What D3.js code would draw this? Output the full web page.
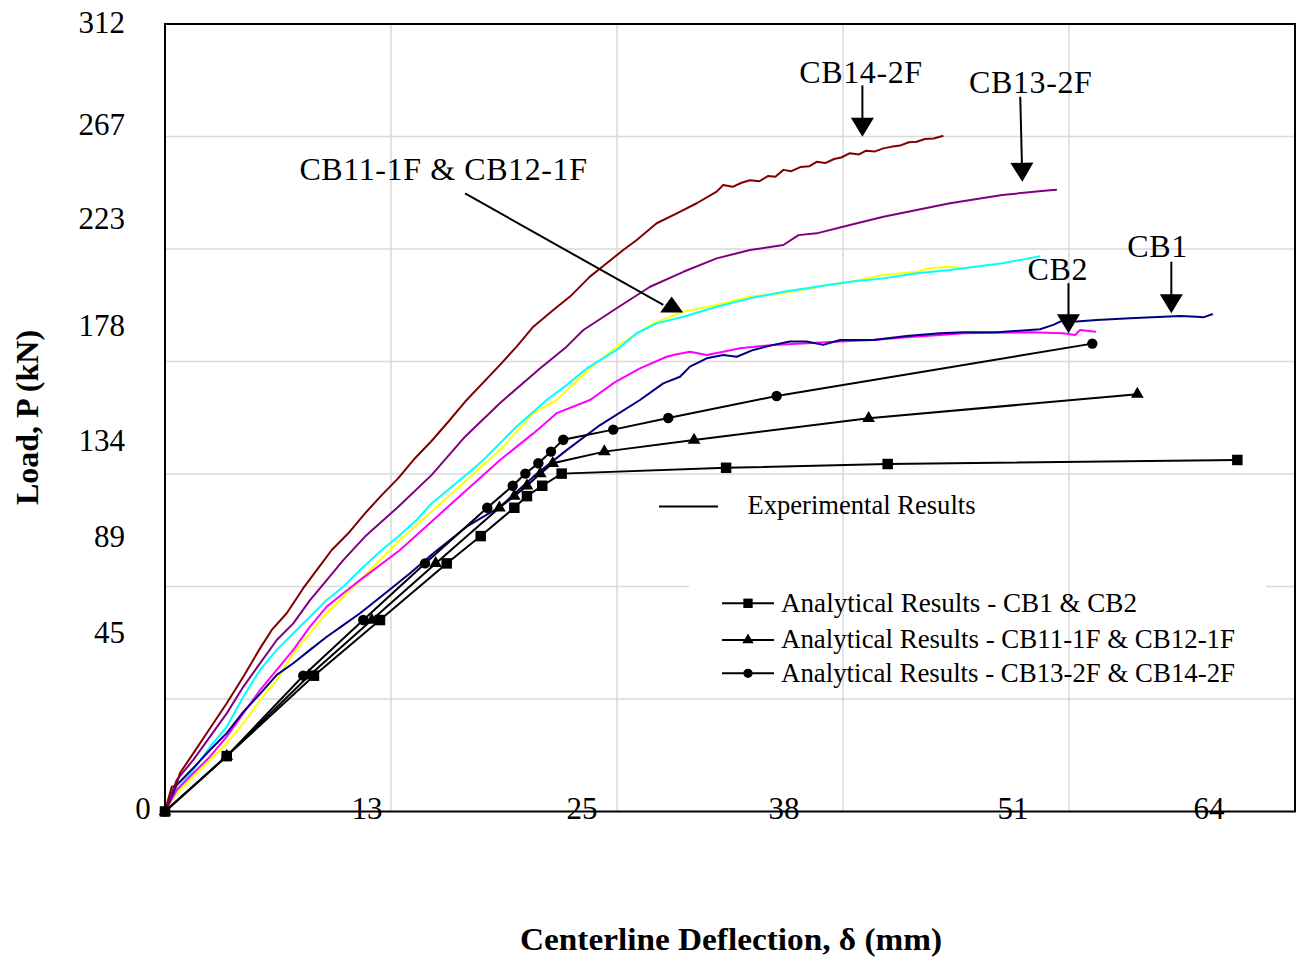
<!DOCTYPE html>
<html><head><meta charset="utf-8">
<script src="https://cdn.jsdelivr.net/npm/d3@7"></script>
<style>
body{margin:0;background:#fff}
svg{display:block}
text{font-family:"Liberation Serif","Times New Roman",serif;fill:#000}
</style>
</head><body>
<svg id="c" width="1296" height="959"></svg>
<script>
// ---------------- DATA ----------------
// Experimental curves: centerline deflection (mm) and load (kN)
const cb1Defl = [0,0.66,1.59,2.53,3.47,4.40,5.34,6.28,7.21,8.15,9.09,10.02,10.96,11.90,12.83,13.77,15.08,16.95,18.83,20.70,22.57,24.45,26.69,28.00,28.94,29.50,30.44,31.37,32.13,33.06,34.18,35.12,36.06,36.99,37.93,39.80,41.68,43.55,44.86,46.74,49.17,49.92,50.48,51.23,52.36,54.23,56.10,57.04,57.98,58.35,58.88];
const cb1Load = [0,10.5,17.2,24.3,31.0,39.4,46.5,54.0,58.6,63.9,69.1,73.7,78.4,83.6,88.9,94.2,102.1,112.6,120.5,132.4,142.9,152.8,162.7,169.3,171.9,175.9,179.2,180.5,179.8,182.5,184.5,185.8,185.8,184.5,186.4,186.4,188.0,189.1,189.5,189.5,190.7,192.4,194.3,193.7,194.3,195.0,195.6,195.9,195.6,195.4,196.7];

const cb2Defl = [0,0.66,1.59,2.53,3.47,4.40,5.34,6.28,7.21,8.15,9.09,10.02,10.96,13.21,15.08,16.95,18.83,20.70,22.01,23.88,25.29,26.69,28.19,28.56,29.50,30.44,31.37,32.31,34.18,36.06,37.93,39.80,41.68,43.55,44.86,46.74,48.61,50.48,51.14,51.42,52.32];
const cb2Load = [0,8.5,15.1,21.7,29.6,38.8,48.0,56.0,63.9,73.1,81.0,86.3,91.5,103.4,115.3,127.1,139.0,149.5,157.5,162.7,169.8,175.2,179.8,180.5,181.8,180.5,181.8,183.2,184.5,185.1,185.8,186.4,187.5,188.4,189.1,189.3,189.5,189.1,188.4,190.4,189.7];

const cb11Defl = [0,0.66,1.59,2.53,3.47,4.40,5.34,6.28,7.21,8.15,9.09,10.02,10.96,12.08,13.21,15.08,16.95,18.83,20.70,22.01,23.88,25.38,26.69,27.44,29.13,31.00,32.87,34.75,37.19,38.49,40.37,42.24,42.99,44.11,44.74];
const cb11Load = [0,7.2,13.8,20.4,27.0,34.9,44.1,52.0,62.6,70.5,78.4,84.9,91.5,99.4,107.4,119.2,131.1,143.0,157.5,162.7,175.2,183.8,189.7,193.0,197.6,200.3,203.6,204.9,208.2,209.5,212.1,213.4,214.8,215.4,215.0];

const cb12Defl = [0,0.28,0.66,1.59,2.53,3.47,4.40,5.34,6.28,7.21,8.15,9.09,10.02,10.96,12.18,13.11,14.14,14.99,16.02,16.86,17.89,19.76,21.45,22.57,23.70,25.38,26.51,27.63,29.13,31.00,32.87,34.75,36.62,38.49,40.37,42.24,44.11,47.05,49.19];
const cb12Load = [0,4.5,8.5,16.4,25.6,33.5,45.4,56.0,63.9,70.5,77.0,83.6,88.9,95.5,103.4,108.7,115.3,121.9,127.8,132.7,139.0,152.2,162.7,168.6,175.2,182.5,189.1,193.0,195.6,199.6,202.9,205.5,207.5,209.5,210.8,212.8,214.1,216.8,219.6];

const cb13Defl = [0,0.66,1.59,2.53,3.47,4.40,5.34,6.28,7.21,8.15,9.09,10.02,11.24,13.11,14.99,16.86,18.83,21.07,22.57,23.51,25.38,27.26,29.13,31.00,32.87,34.75,35.60,36.62,38.49,40.37,42.24,44.11,47.05,49.56,50.12];
const cb13Load = [0,12.5,20.4,29.6,38.8,49.3,58.6,67.8,74.4,83.6,91.5,99.4,108.7,120.5,133.1,148.2,161.5,175.2,183.8,190.4,199.0,207.5,213.4,218.7,222.0,224.0,227.9,228.6,231.9,235.2,237.8,240.5,243.8,245.5,245.8];

const cb14Defl = [0,0.17,0.38,0.62,0.84,1.59,2.53,3.47,4.40,5.34,6.00,6.84,7.77,8.61,9.37,10.30,11.24,12.18,13.11,14.05,14.99,15.92,16.86,18.64,19.76,20.70,21.82,22.76,23.88,24.82,25.75,26.51,27.63,28.76,29.88,31.00,31.37,31.90,32.40,32.87,33.40,33.90,34.30,34.75,35.20,35.70,36.20,36.62,37.10,37.60,38.00,38.49,39.00,39.40,39.90,40.37,40.80,41.30,41.80,42.24,42.70,43.20,43.74];
const cb14Load = [0,4.5,9.8,10.1,15.2,23.0,32.9,42.8,53.3,64.5,71.8,78.4,88.3,96.2,103.4,110.0,117.9,125.1,131.8,139.7,146.6,154.1,162.0,175.2,183.8,191.7,198.3,203.6,211.5,216.8,222.0,226.0,232.6,236.5,240.5,245.1,247.7,247.0,248.6,249.6,249.2,251.3,251.0,253.7,253.2,254.8,255.1,256.9,256.4,258.0,258.6,260.3,259.8,261.3,261.0,262.2,262.8,263.3,264.6,264.8,265.9,266.1,267.2];

// Analytical results
const anaSqDefl  = [0,3.47,8.37,12.08,15.83,17.74,19.63,20.34,21.20,22.29,31.53,40.61,60.26];
const anaSqLoad  = [0,21.9,53.7,75.7,98.1,108.9,120.1,124.7,128.8,133.6,135.9,137.4,139.0];
const anaTriDefl = [0,3.47,8.09,11.62,15.21,18.79,19.63,20.34,21.09,21.79,24.69,29.73,39.54,54.64];
const anaTriLoad = [0,21.9,53.7,75.7,98.1,120.1,124.7,128.8,133.6,137.7,142.3,146.9,155.5,165.0];
const anaCirDefl = [0,3.47,7.77,11.14,14.61,18.11,19.54,20.25,20.98,21.69,22.38,25.19,28.28,34.37,52.11];
const anaCirLoad = [0,21.9,53.7,75.7,98.1,120.1,128.8,133.6,137.7,142.3,147.0,151.0,155.6,164.3,185.0];

// Grid (0.5 in and 10 kip steps, in mm / kN)
const xGrid = [12.7,25.4,38.1,50.8];
const yGrid = [44.48,88.96,133.45,177.93,222.41,266.89];
// Tick labels as printed, and where they sit (mm / kN)
const xTickLabels = ["13","25","38","51","64"];
const xTickLabelAt = [11.35,23.43,34.78,47.65,58.67];
const yTickLabels = ["312","267","223","178","134","89","45"];
const yTickLabelAt = [307.7,267.5,230.2,188.0,142.7,104.7,66.7];

// Annotations
const annotLabels = ["CB14-2F","CB13-2F","CB1","CB2","CB11-1F & CB12-1F"];
const annotLabelAt = [[39.11,287.9],[48.65,284.0],[55.78,219.4],[50.17,210.2],[15.65,249.7]];
const arrowFrom = [[39.19,287.1],[48.06,282.6],[56.55,217.4],[50.77,208.9]];
const arrowTo   = [[39.19,266.8],[48.18,249.0],[56.55,197.0],[50.77,189.1]];
const cb11LineFrom = [16.86,244.4], cb11LineTo = [28.00,200.3], cb11Apex = [28.47,203.6];

const legendAna = ["Analytical Results - CB1 & CB2","Analytical Results - CB11-1F & CB12-1F","Analytical Results - CB13-2F & CB14-2F"];

// ---------------- DRAW ----------------
const svg = d3.select("#c");
const x = d3.scaleLinear().domain([0,63.5]).range([165,1295]);
const y = d3.scaleLinear().domain([0,311.38]).range([811.5,24]);
const gridColor = "#d9d9d9";

// horizontal gridlines
svg.append("g").selectAll("line").data(yGrid).join("line")
  .attr("x1",x(0)).attr("x2",x(63.5)).attr("y1",d=>y(d)).attr("y2",d=>y(d))
  .attr("stroke",gridColor).attr("stroke-width",1.5);
// legend background box (hides the horizontal grid beneath it)
svg.append("rect").attr("x",689).attr("y",584).attr("width",577).attr("height",110).attr("fill","#fff");
// vertical gridlines
svg.append("g").selectAll("line").data(xGrid).join("line")
  .attr("x1",d=>x(d)).attr("x2",d=>x(d)).attr("y1",y(0)).attr("y2",y(311.38))
  .attr("stroke",gridColor).attr("stroke-width",1.5);

// tick labels
svg.append("g").selectAll("text").data(xTickLabels).join("text")
  .attr("x",(d,i)=>x(xTickLabelAt[i])).attr("y",y(-3.0))
  .attr("text-anchor","middle").attr("font-size",31).text(d=>d);
svg.append("g").selectAll("text").data(yTickLabels).join("text")
  .attr("x",125).attr("y",(d,i)=>y(yTickLabelAt[i]))
  .attr("text-anchor","end").attr("font-size",31).text(d=>d);
svg.append("text").attr("x",143).attr("y",y(-3.0)).attr("text-anchor","middle").attr("font-size",31).text("0");

// frame
svg.append("rect").attr("x",x(0)).attr("y",y(311.38)).attr("width",x(63.5)-x(0)).attr("height",y(0)-y(311.38))
  .attr("fill","none").attr("stroke","#000").attr("stroke-width",2);

// axis titles
svg.append("text").attr("x",731).attr("y",950).attr("text-anchor","middle")
  .attr("font-size",31).attr("font-weight","bold")
  .attr("textLength",422).attr("lengthAdjust","spacingAndGlyphs")
  .text("Centerline Deflection, δ (mm)");
svg.append("text").attr("transform","translate(37.5,417.5) rotate(-90)").attr("text-anchor","middle")
  .attr("font-size",32).attr("font-weight","bold").text("Load, P (kN)");

// experimental curves
const line = d3.line().x(d=>x(d[0])).y(d=>y(d[1]));
const expSeries = [
  {d:cb11Defl,l:cb11Load,c:"#FFFF00"},
  {d:cb12Defl,l:cb12Load,c:"#00FFFF"},
  {d:cb2Defl,l:cb2Load,c:"#FF00FF"},
  {d:cb1Defl,l:cb1Load,c:"#000080"},
  {d:cb13Defl,l:cb13Load,c:"#800080"},
  {d:cb14Defl,l:cb14Load,c:"#800000"}
];
svg.append("g").selectAll("path").data(expSeries).join("path")
  .attr("d",s=>line(d3.zip(s.d,s.l))).attr("fill","none")
  .attr("stroke",s=>s.c).attr("stroke-width",2).attr("stroke-linejoin","round");

// analytical curves
const anaSeries = [
  {d:anaSqDefl,l:anaSqLoad,sym:d3.symbolSquare,size:110},
  {d:anaTriDefl,l:anaTriLoad,sym:d3.symbolTriangle,size:70},
  {d:anaCirDefl,l:anaCirLoad,sym:d3.symbolCircle,size:85}
];
const ag = svg.append("g");
anaSeries.forEach(s=>{
  const pts = d3.zip(s.d,s.l);
  ag.append("path").attr("d",line(pts)).attr("fill","none").attr("stroke","#000").attr("stroke-width",2);
  ag.append("g").selectAll("path").data(pts).join("path")
    .attr("transform",p=>`translate(${x(p[0])},${y(p[1])})`)
    .attr("d",d3.symbol().type(s.sym).size(s.size)).attr("fill","#000");
});

// annotations
const an = svg.append("g");
an.selectAll("text").data(annotLabels).join("text")
  .attr("x",(d,i)=>x(annotLabelAt[i][0])).attr("y",(d,i)=>y(annotLabelAt[i][1]))
  .attr("text-anchor","middle").attr("font-size",32).attr("letter-spacing","0.6px").text(d=>d);
function arrowHead(px,py,ux,uy,len,w){
  const bx=px-ux*len, by=py-uy*len, nx=-uy, ny=ux;
  return `M${px},${py}L${bx+nx*w/2},${by+ny*w/2}L${bx-nx*w/2},${by-ny*w/2}Z`;
}
arrowFrom.forEach((f,i)=>{
  const x1=x(f[0]),y1=y(f[1]),x2=x(arrowTo[i][0]),y2=y(arrowTo[i][1]);
  const L=Math.hypot(x2-x1,y2-y1), ux=(x2-x1)/L, uy=(y2-y1)/L;
  an.append("line").attr("x1",x1).attr("y1",y1).attr("x2",x2-ux*16).attr("y2",y2-uy*16)
    .attr("stroke","#000").attr("stroke-width",2);
  an.append("path").attr("d",arrowHead(x2,y2,ux,uy,19,23)).attr("fill","#000");
});
an.append("line").attr("x1",x(cb11LineFrom[0])).attr("y1",y(cb11LineFrom[1]))
  .attr("x2",x(cb11LineTo[0])).attr("y2",y(cb11LineTo[1])).attr("stroke","#000").attr("stroke-width",2);
{
  const ax=x(cb11Apex[0]), ay=y(cb11Apex[1]);
  an.append("path").attr("d",`M${ax},${ay}L${ax+11.5},${ay+16}L${ax-11.5},${ay+16}Z`).attr("fill","#000");
}

// legend: experimental
const lg = svg.append("g");
lg.append("line").attr("x1",659).attr("x2",718).attr("y1",506.5).attr("y2",506.5).attr("stroke","#000").attr("stroke-width",2);
lg.append("text").attr("x",747.5).attr("y",513.5).attr("font-size",27)
  .attr("textLength",228).attr("lengthAdjust","spacingAndGlyphs").text("Experimental Results");
// legend: analytical
const legY = [603.3,640,673.3];
const legLen = [356,454,454];
legendAna.forEach((t,i)=>{
  const s = anaSeries[i];
  lg.append("line").attr("x1",722).attr("x2",774).attr("y1",legY[i]).attr("y2",legY[i]).attr("stroke","#000").attr("stroke-width",2);
  lg.append("path").attr("transform",`translate(748,${legY[i]})`).attr("d",d3.symbol().type(s.sym).size(s.size*0.8)).attr("fill","#000");
  lg.append("text").attr("x",781).attr("y",legY[i]+8.4).attr("font-size",27)
    .attr("textLength",legLen[i]).attr("lengthAdjust","spacingAndGlyphs").text(t);
});
</script>
</body></html>
